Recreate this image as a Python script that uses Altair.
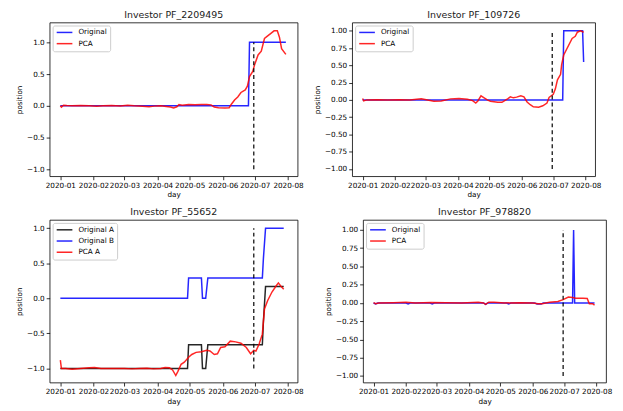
import altair as alt
import pandas as pd

# ---------------- data ----------------
X_DOMAIN = ["2019-12-22", "2020-08-10"]
MONTH_TICKS = ["2020-01-01", "2020-02-01", "2020-03-01", "2020-04-01",
               "2020-05-01", "2020-06-01", "2020-07-01", "2020-08-01"]
CUT_DATE = "2020-06-30"
CUT_LOW = -1.0
CUT_HIGH = 1.0

# Panel 1: Investor PF_2209495
p1_orig_dates = ["2020-01-01", "2020-06-25", "2020-06-26", "2020-07-30"]
p1_orig_vals = [0.0, 0.0, 1.0, 1.0]
p1_pca_dates = ["2020-01-01", "2020-01-02", "2020-01-04", "2020-01-07", "2020-01-12", "2020-01-20",
                "2020-01-28", "2020-02-04", "2020-02-10", "2020-02-18", "2020-02-26", "2020-03-04",
                "2020-03-10", "2020-03-18", "2020-03-24", "2020-03-29", "2020-04-04", "2020-04-09",
                "2020-04-13", "2020-04-16", "2020-04-19", "2020-04-21", "2020-04-24", "2020-04-30",
                "2020-05-06", "2020-05-12", "2020-05-17", "2020-05-21", "2020-05-24", "2020-05-28",
                "2020-06-03", "2020-06-07", "2020-06-09", "2020-06-12", "2020-06-15", "2020-06-18",
                "2020-06-22", "2020-06-24", "2020-06-26", "2020-06-29", "2020-07-01", "2020-07-04",
                "2020-07-07", "2020-07-10", "2020-07-13", "2020-07-16", "2020-07-19", "2020-07-22",
                "2020-07-24", "2020-07-26", "2020-07-30"]
p1_pca_vals = [0.0, -0.02, 0.01, 0.005, 0.0, 0.003,
               0.0, -0.008, 0.0, 0.004, -0.004, 0.01,
               0.0, -0.006, -0.015, -0.005, 0.0, -0.01,
               -0.02, -0.035, -0.015, 0.02, 0.01, 0.02,
               0.015, 0.02, 0.02, 0.015, -0.02, -0.03,
               -0.035, -0.03, 0.025, 0.09, 0.14, 0.21,
               0.25, 0.31, 0.46, 0.54, 0.66, 0.8,
               0.86, 1.06, 1.1, 1.14, 1.18, 1.18,
               1.08, 0.9, 0.81]

# Panel 2: Investor PF_109726
p2_orig_dates = ["2020-01-01", "2020-07-10", "2020-07-11", "2020-07-29", "2020-07-30"]
p2_orig_vals = [0.0, 0.0, 1.0, 1.0, 0.55]
p2_pca_dates = ["2020-01-01", "2020-01-02", "2020-01-05", "2020-01-15", "2020-01-25", "2020-02-05",
                "2020-02-15", "2020-02-26", "2020-03-09", "2020-03-16", "2020-03-25", "2020-04-02",
                "2020-04-10", "2020-04-15", "2020-04-18", "2020-04-20", "2020-04-23", "2020-04-26",
                "2020-04-29", "2020-05-02", "2020-05-09", "2020-05-13", "2020-05-18", "2020-05-21",
                "2020-05-24", "2020-05-27", "2020-05-31", "2020-06-03", "2020-06-06", "2020-06-09",
                "2020-06-12", "2020-06-17", "2020-06-21", "2020-06-25", "2020-06-27", "2020-07-01",
                "2020-07-03", "2020-07-05", "2020-07-08", "2020-07-09", "2020-07-11", "2020-07-14",
                "2020-07-19", "2020-07-22", "2020-07-24", "2020-07-27", "2020-07-30"]
p2_pca_vals = [0.02, -0.015, 0.0, 0.003, -0.003, 0.002,
               0.0, 0.015, -0.02, -0.015, 0.015, 0.02,
               0.01, -0.01, -0.045, -0.015, 0.06, 0.03,
               0.0, -0.02, -0.035, -0.035, 0.01, 0.045,
               0.03, 0.04, 0.06, 0.045, -0.03, -0.07,
               -0.1, -0.105, -0.085, -0.045, 0.035, 0.08,
               0.16, 0.29, 0.37, 0.51, 0.65, 0.74,
               0.89, 0.92, 0.98, 1.0, 0.98]

# Panel 3: Investor PF_55652
p3_origA_dates = ["2020-01-01", "2020-04-29", "2020-04-30", "2020-05-12", "2020-05-13", "2020-05-16",
                  "2020-05-18", "2020-07-08", "2020-07-09", "2020-07-11", "2020-07-28"]
p3_origA_vals = [-1.0, -1.0, -0.66, -0.66, -1.0, -1.0,
                 -0.66, -0.66, -0.33, 0.17, 0.17]
p3_origB_dates = ["2020-01-01", "2020-04-29", "2020-04-30", "2020-05-12", "2020-05-13", "2020-05-16",
                  "2020-05-18", "2020-07-08", "2020-07-09", "2020-07-11", "2020-07-28"]
p3_origB_vals = [0.0, 0.0, 0.29, 0.29, 0.0, 0.0,
                 0.29, 0.29, 0.57, 1.0, 1.0]
p3_pca_dates = ["2020-01-01", "2020-01-02", "2020-01-06", "2020-01-12", "2020-01-20", "2020-01-28",
                "2020-02-02", "2020-02-08", "2020-02-15", "2020-02-22", "2020-03-01", "2020-03-08",
                "2020-03-15", "2020-03-22", "2020-03-28", "2020-04-04", "2020-04-08", "2020-04-12",
                "2020-04-15", "2020-04-18", "2020-04-20", "2020-04-23", "2020-04-26", "2020-04-30",
                "2020-05-03", "2020-05-07", "2020-05-12", "2020-05-17", "2020-05-20", "2020-05-24",
                "2020-05-27", "2020-05-30", "2020-06-03", "2020-06-08", "2020-06-13", "2020-06-18",
                "2020-06-23", "2020-06-27", "2020-06-30", "2020-07-02", "2020-07-05", "2020-07-08",
                "2020-07-10", "2020-07-13", "2020-07-17", "2020-07-21", "2020-07-23", "2020-07-25",
                "2020-07-28"]
p3_pca_vals = [-0.88, -1.0, -1.0, -1.01, -1.0, -0.99,
               -0.985, -1.0, -1.0, -1.0, -1.0, -1.005,
               -1.0, -0.995, -1.005, -1.0, -0.985, -0.99,
               -1.02, -1.1, -1.04, -0.94, -0.91, -0.84,
               -0.8, -0.77, -0.76, -0.74, -0.75, -0.8,
               -0.79, -0.7, -0.69, -0.61, -0.62, -0.64,
               -0.7, -0.79, -0.74, -0.75, -0.65, -0.51,
               -0.15, -0.03, 0.09, 0.18, 0.22, 0.18,
               0.13]

# Panel 4: Investor PF_978820
p4_orig_dates = ["2020-01-01", "2020-01-03", "2020-01-05", "2020-02-01", "2020-02-03", "2020-02-05",
                 "2020-02-24", "2020-02-26", "2020-02-28", "2020-04-15", "2020-04-17", "2020-04-19",
                 "2020-05-07", "2020-05-09", "2020-05-11", "2020-06-03", "2020-06-05", "2020-06-09",
                 "2020-06-11", "2020-07-09", "2020-07-10", "2020-07-11", "2020-07-30"]
p4_orig_vals = [0.0, -0.012, 0.0, 0.0, -0.012, 0.0,
                0.0, -0.012, 0.0, 0.0, -0.02, 0.0,
                0.0, -0.012, 0.0, 0.0, -0.015, -0.015,
                0.0, 0.0, 1.0, 0.0, 0.0]
p4_pca_dates = ["2020-01-01", "2020-01-03", "2020-01-06", "2020-01-20", "2020-02-01", "2020-02-10",
                "2020-02-25", "2020-03-10", "2020-03-25", "2020-04-10", "2020-04-15", "2020-04-17",
                "2020-04-20", "2020-04-25", "2020-05-05", "2020-05-20", "2020-06-01", "2020-06-06",
                "2020-06-10", "2020-06-17", "2020-06-25", "2020-06-30", "2020-07-05", "2020-07-09",
                "2020-07-12", "2020-07-19", "2020-07-23", "2020-07-25", "2020-07-28", "2020-07-30"]
p4_pca_vals = [0.005, -0.01, 0.0, 0.003, 0.008, 0.0,
               0.005, 0.003, 0.0, 0.008, 0.0, -0.02,
               0.01, 0.008, 0.0, 0.003, 0.0, -0.012,
               -0.01, 0.01, 0.02, 0.045, 0.08, 0.075,
               0.065, 0.065, 0.06, -0.01, -0.01, -0.03]

BLUE = "#0000ff"
RED = "#ff0000"
BLACK = "#000000"
FS = 7.3


def dt(s):
    y, m, d = (int(v) for v in s.split("-"))
    return alt.DateTime(year=y, month=m, date=d)


def panel(title, series, y_domain, y_ticks, y_fmt, width, height):
    names = [s[0] for s in series]
    colors = [s[1] for s in series]
    x = alt.X("date:T", title="day",
              scale=alt.Scale(domain=[dt(X_DOMAIN[0]), dt(X_DOMAIN[1])]),
              axis=alt.Axis(values=[dt(m) for m in MONTH_TICKS], format="%Y-%m",
                            labelOverlap=False, labelFlush=False, labelBound=False))
    y = alt.Y("value:Q", title="position",
              scale=alt.Scale(domain=y_domain, nice=False, zero=False),
              axis=alt.Axis(values=y_ticks, format=y_fmt, labelOverlap=False, labelFlush=False))
    color = alt.Color("series:N", scale=alt.Scale(domain=names, range=colors),
                      legend=alt.Legend(title=None, orient="top-left", offset=3,
                                        symbolType="stroke", symbolSize=250, symbolStrokeWidth=1.5,
                                        labelFontSize=FS, labelColor="black", labelOffset=5,
                                        strokeColor="#cccccc", fillColor="white", cornerRadius=2,
                                        padding=3, rowPadding=3.3, clipHeight=8))
    layers = []
    for name, col, dates, vals in series:
        df = pd.DataFrame({"date": [d + "T00:00" for d in dates], "value": vals,
                           "series": [name] * len(vals)})
        layers.append(alt.Chart(df).mark_line(strokeWidth=1.5, opacity=0.85)
                      .encode(x=x, y=y, color=color))
    cut = pd.DataFrame({"date": [CUT_DATE + "T00:00"], "value": [CUT_LOW], "value2": [CUT_HIGH]})
    layers.append(alt.Chart(cut).mark_rule(color="black", strokeDash=[4, 3], strokeWidth=1.2)
                  .encode(x=x, y=y, y2="value2:Q"))
    return alt.layer(*layers).properties(
        width=width, height=height,
        title=alt.TitleParams(text=title, fontSize=9.5, fontWeight="normal", offset=3,
                              color="#1a1a1a", anchor="middle"))


ticks_a = [-1.0, -0.5, 0.0, 0.5, 1.0]
ticks_b = [-1.0, -0.75, -0.5, -0.25, 0.0, 0.25, 0.5, 0.75, 1.0]

c1 = panel("Investor PF_2209495",
           [("Original", BLUE, p1_orig_dates, p1_orig_vals),
            ("PCA", RED, p1_pca_dates, p1_pca_vals)],
           [-1.109, 1.311], ticks_a, ".1f", 250, 155)
c2 = panel("Investor PF_109726",
           [("Original", BLUE, p2_orig_dates, p2_orig_vals),
            ("PCA", RED, p2_pca_dates, p2_pca_vals)],
           [-1.105, 1.12], ticks_b, ".2f", 245, 155)
c3 = panel("Investor PF_55652",
           [("Original A", BLACK, p3_origA_dates, p3_origA_vals),
            ("Original B", BLUE, p3_origB_dates, p3_origB_vals),
            ("PCA A", RED, p3_pca_dates, p3_pca_vals)],
           [-1.2, 1.118], ticks_a, ".1f", 250, 164)
c4 = panel("Investor PF_978820",
           [("Original", BLUE, p4_orig_dates, p4_orig_vals),
            ("PCA", RED, p4_pca_dates, p4_pca_vals)],
           [-1.09, 1.137], ticks_b, ".2f", 245, 164)

row1 = alt.hconcat(c1, c2, spacing=9).resolve_scale(color="independent", x="independent", y="independent")
row2 = alt.hconcat(c3, c4, spacing=20).resolve_scale(color="independent", x="independent", y="independent")

chart = (
    alt.vconcat(row1, row2, spacing=8)
    .resolve_scale(color="independent", x="independent", y="independent")
    .properties(padding={"left": 7, "top": 0, "right": 2, "bottom": 0})
    .configure(font="DejaVu Sans")
    .configure_view(stroke="black", strokeWidth=0.8)
    .configure_axis(domain=False, grid=False, tickColor="black", tickSize=3.5, tickWidth=0.8,
                    labelColor="black", labelFontSize=FS, titleFontSize=FS,
                    titleFontWeight="normal", titleColor="black", labelPadding=2)
    .configure_axisX(titlePadding=2)
    .configure_axisY(titlePadding=3)
)

chart.save("out.html", embed_options={"renderer": "svg", "actions": False})
